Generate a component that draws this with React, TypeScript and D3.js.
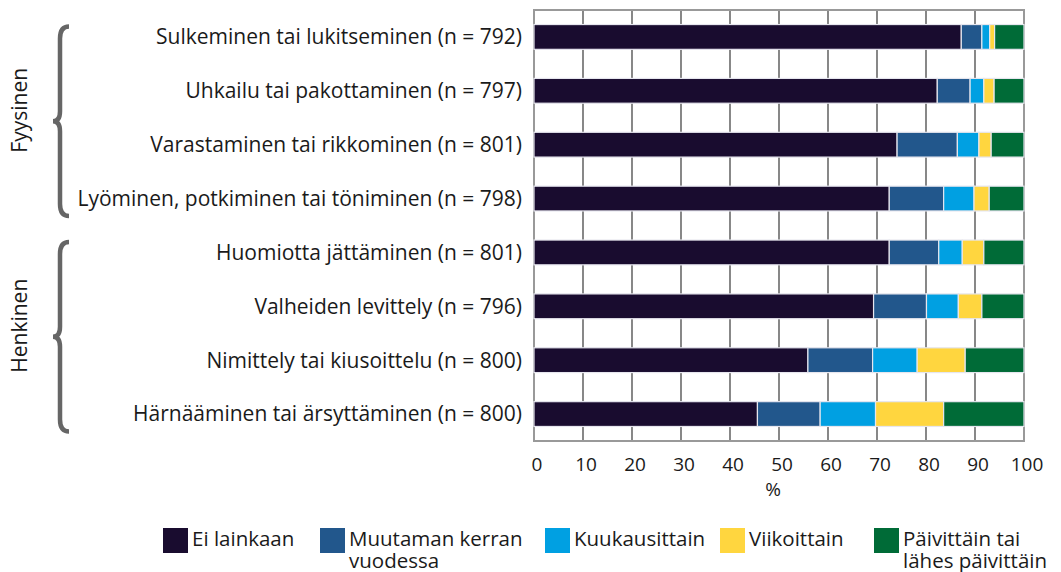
import * as d3 from "d3";

const MARGINS = { LEFT: 534, RIGHT: 37, TOP: 10, BOTTOM: 131 };
const WIDTH = 1061;
const HEIGHT = 572;

const categories = [
  "Sulkeminen tai lukitseminen (n = 792)",
  "Uhkailu tai pakottaminen (n = 797)",
  "Varastaminen tai rikkominen (n = 801)",
  "Lyöminen, potkiminen tai töniminen (n = 798)",
  "Huomiotta jättäminen (n = 801)",
  "Valheiden levittely (n = 796)",
  "Nimittely tai kiusoittelu (n = 800)",
  "Härnääminen tai ärsyttäminen (n = 800)",
];

const seriesNames = [
  "Ei lainkaan",
  "Muutaman kerran vuodessa",
  "Kuukausittain",
  "Viikoittain",
  "Päivittäin tai lähes päivittäin",
];
const colors = ["#190c2f", "#22578c", "#00a0e2", "#ffd63f", "#006b37"];

const eiLainkaan = [87.2, 82.3, 74.1, 72.5, 72.5, 69.3, 55.9, 45.6];
const muutaman = [4.2, 6.7, 12.3, 11.1, 10.1, 10.8, 13.2, 12.8];
const kuukausittain = [1.6, 2.8, 4.4, 6.2, 4.8, 6.5, 9.1, 11.3];
const viikoittain = [1.0, 2.1, 2.5, 3.1, 4.4, 4.8, 9.8, 13.9];
const paivittain = [6.0, 6.1, 6.7, 7.1, 8.2, 8.6, 12.0, 16.4];

const xTicks = [0, 10, 20, 30, 40, 50, 60, 70, 80, 90, 100];

const groups = [
  { label: "Fyysinen", from: 0, to: 3 },
  { label: "Henkinen", from: 4, to: 7 },
];

// legend item x positions and label lines
const legendItems = [
  { x: 163, lines: ["Ei lainkaan"] },
  { x: 320, lines: ["Muutaman kerran", "vuodessa"] },
  { x: 545, lines: ["Kuukausittain"] },
  { x: 720, lines: ["Viikoittain"] },
  { x: 874, lines: ["Päivittäin tai", "lähes päivittäin"] },
];

const FONT = "'Open Sans', 'Noto Sans', sans-serif";
const LABEL_SIZE = 21;

export default function App() {
  const rows = categories.map((c, i) => ({
    cat: c,
    values: [eiLainkaan[i], muutaman[i], kuukausittain[i], viikoittain[i], paivittain[i]],
  }));
  const stacked = d3
    .stack<any, number>()
    .keys([0, 1, 2, 3, 4])
    .value((d, k) => d.values[k])(rows as any);

  const plotRight = WIDTH - MARGINS.RIGHT;
  const plotBottom = HEIGHT - MARGINS.BOTTOM;

  const x = d3.scaleLinear().domain([0, 100]).range([MARGINS.LEFT, plotRight]);
  const y = d3
    .scaleBand<string>()
    .domain(categories)
    .range([MARGINS.TOP, plotBottom])
    .paddingInner(0.54)
    .paddingOuter(0.27);

  const brace = (top: number, bottom: number) => {
    const xr = 69;
    const xm = 60;
    const xt = 53;
    const mid = (top + bottom) / 2;
    return `M${xr},${top} Q${xm},${top} ${xm},${top + 12} L${xm},${mid - 10} Q${xm},${mid} ${xt},${mid} Q${xm},${mid} ${xm},${mid + 10} L${xm},${bottom - 12} Q${xm},${bottom} ${xr},${bottom}`;
  };

  return (
    <svg
      width={WIDTH}
      height={HEIGHT}
      style={{ position: "absolute", left: 0, top: 0, background: "#fff" }}
      fontFamily={FONT}
    >
      {/* gridlines */}
      {xTicks.map((t) => (
        <line
          key={"g" + t}
          x1={x(t)}
          x2={x(t)}
          y1={MARGINS.TOP}
          y2={plotBottom}
          stroke="#555"
          strokeWidth={1.4}
        />
      ))}
      {/* frame */}
      <rect
        x={MARGINS.LEFT}
        y={MARGINS.TOP}
        width={plotRight - MARGINS.LEFT}
        height={plotBottom - MARGINS.TOP}
        fill="none"
        stroke="#999"
        strokeWidth={2}
      />
      {/* bars */}
      {stacked.map((layer, si) =>
        layer.map((d, i) => (
          <rect
            key={`${si}-${i}`}
            x={x(d[0])}
            y={y(categories[i])}
            width={x(d[1]) - x(d[0])}
            height={y.bandwidth()}
            fill={colors[si]}
            stroke="#e6e6ee"
            strokeWidth={1.2}
          />
        ))
      )}
      {/* category labels */}
      {categories.map((c) => (
        <text
          key={c}
          x={MARGINS.LEFT - 12}
          y={(y(c) ?? 0) + y.bandwidth() / 2}
          dy="0.35em"
          textAnchor="end"
          fontSize={LABEL_SIZE}
          fill="#1a1a1a"
        >
          {c}
        </text>
      ))}
      {/* x tick labels */}
      {xTicks.map((t) => (
        <text
          key={"t" + t}
          x={x(t) + 3}
          y={plotBottom + 23}
          dy="0.35em"
          textAnchor="middle"
          fontSize={19}
          fill="#1a1a1a"
        >
          {t}
        </text>
      ))}
      <text
        x={x(50) - 6}
        y={plotBottom + 48}
        dy="0.35em"
        textAnchor="middle"
        fontSize={19}
        fill="#1a1a1a"
      >
        %
      </text>
      {/* group braces */}
      {groups.map((g) => {
        const top = (y(categories[g.from]) ?? 0) + 2;
        const bottom = (y(categories[g.to]) ?? 0) + y.bandwidth() + 5;
        const mid = (top + bottom) / 2;
        return (
          <g key={g.label}>
            <path d={brace(top, bottom)} fill="none" stroke="#666" strokeWidth={4.5} />
            <text
              transform={`translate(27, ${mid - 11}) rotate(-90)`}
              textAnchor="middle"
              fontSize={LABEL_SIZE}
              fill="#1a1a1a"
            >
              {g.label}
            </text>
          </g>
        );
      })}
      {/* legend */}
      {legendItems.map((item, i) => (
        <g key={seriesNames[i]} transform={`translate(${item.x}, 528)`}>
          <rect width={25} height={25} fill={colors[i]} />
          {item.lines.map((ln, li) => (
            <text key={li} x={29} y={18 + li * 22} fontSize={LABEL_SIZE - 0.5} fill="#1a1a1a">
              {ln}
            </text>
          ))}
        </g>
      ))}
    </svg>
  );
}
